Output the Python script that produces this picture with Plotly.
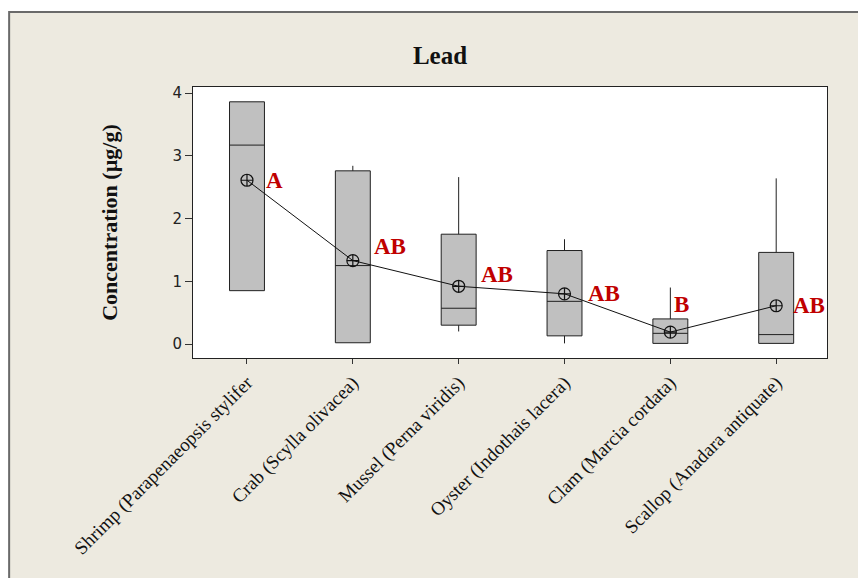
import plotly.graph_objects as go

# Lead concentrations (µg/g) by species: box statistics and means
species = [
    "Shrimp (Parapenaeopsis stylifer",
    "Crab (Scylla olivacea)",
    "Mussel (Perna viridis)",
    "Oyster (Indothais lacera)",
    "Clam (Marcia cordata)",
    "Scallop (Anadara antiquate)",
]
q1 = [0.85, 0.02, 0.30, 0.13, 0.01, 0.01]
median = [3.17, 1.25, 0.57, 0.68, 0.17, 0.15]
q3 = [3.86, 2.76, 1.75, 1.49, 0.40, 1.46]
lower_whisker = [0.85, 0.02, 0.20, 0.01, 0.01, 0.01]
upper_whisker = [3.86, 2.84, 2.66, 1.67, 0.90, 2.64]
means = [2.61, 1.33, 0.92, 0.80, 0.19, 0.61]

# Tukey grouping letters and the height each letter sits at
letters = ["A", "AB", "AB", "AB", "B", "AB"]
letter_y = [2.61, 1.55, 1.10, 0.80, 0.63, 0.62]

pos = list(range(len(species)))

fig = go.Figure()

fig.add_trace(go.Box(
    x=pos,
    q1=q1,
    median=median,
    q3=q3,
    lowerfence=lower_whisker,
    upperfence=upper_whisker,
    width=0.33,
    whiskerwidth=0,
    fillcolor="#C0C0C0",
    line=dict(color="#202020", width=1),
    boxpoints=False,
    showlegend=False,
    hoverinfo="skip",
))

fig.add_trace(go.Scatter(
    x=pos,
    y=means,
    mode="lines+markers",
    line=dict(color="#111111", width=1),
    marker=dict(symbol="circle-cross-open", size=12, color="#111111",
                line=dict(width=1.2)),
    showlegend=False,
    hoverinfo="skip",
))

letter_dx = [0.16, 0.18, 0.19, 0.20, 0.02, 0.14]
for p, txt, ly, dx in zip(pos, letters, letter_y, letter_dx):
    fig.add_annotation(
        x=p + dx, y=ly, text=txt, showarrow=False,
        xanchor="left", yanchor="middle",
        font=dict(family="Liberation Serif", size=23, color="#C00000",
                  weight="bold"),
    )

# Outer frame of the chart panel and the white plotting region
fig.add_shape(type="rect", xref="paper", yref="paper",
              x0=-0.29, x1=1.2, y0=-1.0, y1=1.277,
              fillcolor="#EDEAE0", line=dict(color="#6A6A6A", width=2),
              layer="below")
fig.add_shape(type="rect", xref="paper", yref="paper",
              x0=0, x1=1, y0=0, y1=1,
              fillcolor="white", line=dict(width=0), layer="below")

fig.update_layout(
    width=858, height=578,
    margin=dict(l=193, r=31, t=87, b=220),
    paper_bgcolor="white",
    plot_bgcolor="white",
    title=dict(
        text="<b>Lead</b>",
        x=440 / 858, xanchor="center",
        y=1 - 55 / 578, yanchor="middle",
        font=dict(family="Liberation Serif", size=25, color="#111111"),
    ),
    xaxis=dict(
        range=[-0.51, 5.48],
        tickmode="array",
        tickvals=pos,
        ticktext=species,
        tickangle=-45,
        ticks="outside", ticklen=5, tickcolor="#333333",
        showline=True, linecolor="#222222", linewidth=1, mirror=True,
        showgrid=False, zeroline=False,
        tickfont=dict(family="Liberation Serif", size=19, color="#111111"),
    ),
    yaxis=dict(
        range=[-0.223, 4.096],
        tickvals=[0, 1, 2, 3, 4],
        ticks="outside", ticklen=7, tickcolor="#333333",
        showline=True, linecolor="#222222", linewidth=1, mirror=True,
        showgrid=False, zeroline=False,
        tickfont=dict(family="DejaVu Sans", size=15, color="#222222"),
        title=dict(
            text="<b>Concentration (µg/g)</b>",
            font=dict(family="Liberation Serif", size=22, color="#111111"),
            standoff=48,
        ),
    ),
)

fig.write_html("out.html")
